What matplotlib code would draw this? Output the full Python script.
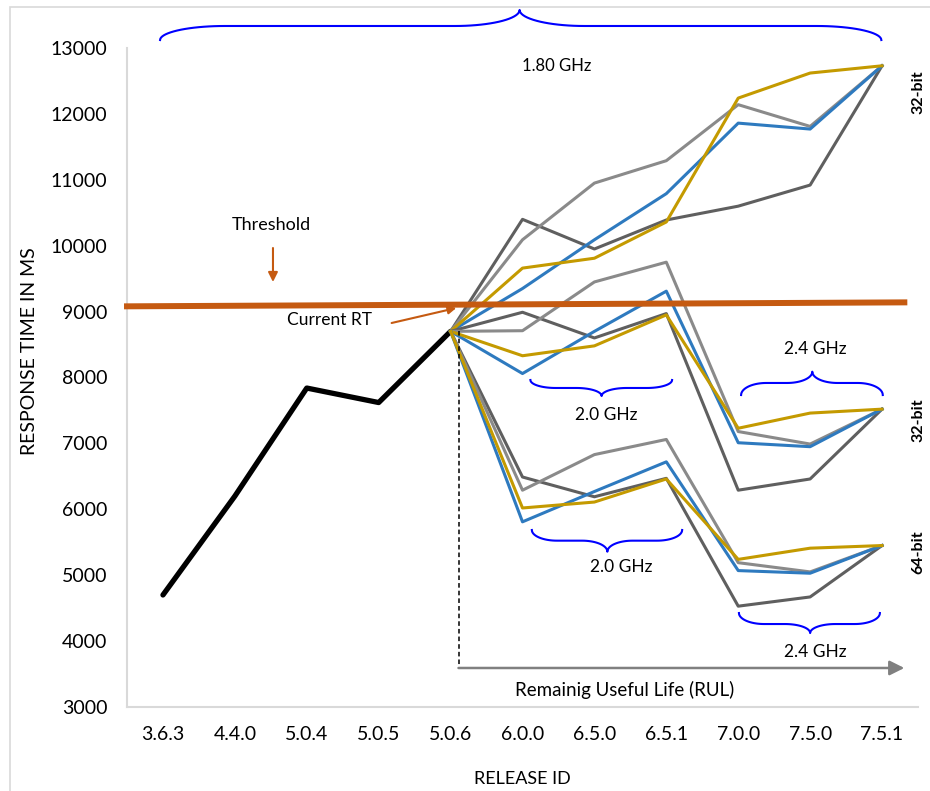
import numpy as np
import matplotlib
matplotlib.use("Agg")
import matplotlib.pyplot as plt
from matplotlib.patches import Rectangle

plt.rcParams['font.family'] = ['Lato', 'DejaVu Sans']

releases = ['3.6.3', '4.4.0', '5.0.4', '5.0.5', '5.0.6', '6.0.0',
            '6.5.0', '6.5.1', '7.0.0', '7.5.0', '7.5.1']
history_rt = [4700, 6200, 7840, 7620, 8700]
threshold_rt = [9080, 9140]

# predicted response times from release 5.0.6 onwards
b32_180_dark = [8700, 10400, 9950, 10390, 10600, 10920, 12730]
b32_180_light = [8700, 10090, 10950, 11290, 12140, 11810, 12730]
b32_180_blue = [8700, 9350, 10090, 10790, 11860, 11770, 12730]
b32_180_gold = [8700, 9660, 9810, 10360, 12240, 12620, 12730]

b32_fast_dark = [8700, 8990, 8600, 8970, 6290, 6460, 7520]
b32_fast_light = [8700, 8710, 9450, 9750, 7180, 6990, 7520]
b32_fast_blue = [8700, 8060, 8700, 9310, 7010, 6950, 7520]
b32_fast_gold = [8700, 8330, 8480, 8950, 7230, 7460, 7520]

b64_fast_dark = [8700, 6490, 6190, 6470, 4530, 4670, 5450]
b64_fast_light = [8700, 6290, 6830, 7060, 5190, 5050, 5450]
b64_fast_blue = [8700, 5810, 6270, 6720, 5070, 5030, 5450]
b64_fast_gold = [8700, 6020, 6110, 6460, 5240, 5410, 5450]

DARK = '#5f5f5f'
LIGHT = '#8a8a8a'
BLUE = '#2e7abf'
GOLD = '#c49a00'
ORANGE = '#c55a11'
BRACE = '#0000ff'


def brace(ax, x0, x1, xm, y_end, y_mid, y_tip, rx=0.3):
    pts_x, pts_y = [], []
    t = np.linspace(np.pi, np.pi / 2, 20)
    pts_x += list(x0 + rx + rx * np.cos(t)); pts_y += list(y_end + (y_mid - y_end) * np.sin(t))
    t = np.linspace(np.pi / 2, 0, 20)
    pts_x += list(xm - rx + rx * np.cos(t)); pts_y += list(y_tip + (y_mid - y_tip) * np.sin(t))
    t = np.linspace(np.pi, np.pi / 2, 20)
    pts_x += list(xm + rx + rx * np.cos(t)); pts_y += list(y_tip + (y_mid - y_tip) * np.sin(t))
    t = np.linspace(np.pi / 2, 0, 20)
    pts_x += list(x1 - rx + rx * np.cos(t)); pts_y += list(y_end + (y_mid - y_end) * np.sin(t))
    ax.plot(pts_x, pts_y, color=BRACE, lw=1.5, clip_on=False, zorder=6)


fig = plt.figure(figsize=(9.3, 7.91), dpi=100)
fig.patches.append(Rectangle((10 / 930, -0.1), 1.2, 0.991 + 0.1, transform=fig.transFigure,
                             fill=False, edgecolor='#d9d9d9', lw=1.2))
ax = fig.add_axes([127 / 930, 1 - 707 / 791, 791 / 930, 659 / 791])

x_all = np.arange(len(releases))
x_pred = x_all[4:]

ax.plot(x_all[:5], history_rt, color='black', lw=3.8, zorder=3, solid_capstyle='round')

bundles = [
    (b32_180_dark, b32_180_light, b32_180_blue, b32_180_gold),
    (b32_fast_dark, b32_fast_light, b32_fast_blue, b32_fast_gold),
    (b64_fast_dark, b64_fast_light, b64_fast_blue, b64_fast_gold),
]
for dark, light, blue, gold in bundles:
    ax.plot(x_pred, dark, color=DARK, lw=2.2, zorder=4)
    ax.plot(x_pred, light, color=LIGHT, lw=2.2, zorder=4)
    ax.plot(x_pred, blue, color=BLUE, lw=2.2, zorder=4)
    ax.plot(x_pred, gold, color=GOLD, lw=2.2, zorder=4)

# threshold line
ax.plot([-0.5, 10.31], threshold_rt, color=ORANGE, lw=4.3, zorder=5, clip_on=False)

ax.set_xlim(-0.5, 10.5)
ax.set_ylim(3000, 13000)
ax.set_yticks(range(3000, 13001, 1000))
ax.set_xticks(x_all)
ax.set_xticklabels(releases)
ax.tick_params(axis='both', length=0, labelsize=14, colors='black')
ax.tick_params(axis='x', pad=14)
ax.tick_params(axis='y', pad=14)
for s in ['top', 'right']:
    ax.spines[s].set_visible(False)
for s in ['left', 'bottom']:
    ax.spines[s].set_color('#d9d9d9')
    ax.spines[s].set_linewidth(1.5)

ax.set_ylabel('RESPONSE TIME IN MS', fontsize=14)
ax.yaxis.set_label_coords(-0.112, 0.54)
ax.set_xlabel('RELEASE ID', fontsize=13, labelpad=20)

# RUL marker
ax.plot([4.11, 4.11], [8700, 3592], color='black', lw=1.1, ls=(0, (3, 2)), zorder=6)
ax.annotate('', xy=(10.31, 3592), xytext=(4.11, 3592),
            arrowprops=dict(arrowstyle='-|>', color='#808080', lw=1.8, mutation_scale=22,
                            shrinkA=0, shrinkB=0),
            annotation_clip=False, zorder=6)
ax.text(6.42, 3258, 'Remainig Useful Life (RUL)', fontsize=13.5, ha='center', va='center')

# threshold / current RT labels
ax.text(1.51, 10314, 'Threshold', fontsize=13, ha='center', va='center')
ax.annotate('', xy=(1.53, 9449), xytext=(1.53, 9965),
            arrowprops=dict(arrowstyle='-|>', color=ORANGE, lw=1.5, mutation_scale=14,
                            shrinkA=0, shrinkB=0))
ax.text(2.32, 8873, 'Current RT', fontsize=12.5, ha='center', va='center')
ax.annotate('', xy=(4.08, 9055), xytext=(3.18, 8827),
            arrowprops=dict(arrowstyle='-|>', color=ORANGE, lw=1.5, mutation_scale=12,
                            shrinkA=0, shrinkB=0))

# frequency braces
brace(ax, -0.04, 9.99, 4.96, 13121, 13334, 13577, rx=0.9)
ax.text(5.47, 12727, '1.80 GHz', fontsize=12, ha='center', va='center')

brace(ax, 5.11, 7.08, 6.1, 7962, 7841, 7719, rx=0.35)
ax.text(6.17, 7431, '2.0 GHz', fontsize=12.5, ha='center', va='center')

brace(ax, 8.04, 10.01, 9.03, 7734, 7917, 8088, rx=0.35)
ax.text(9.07, 8432, '2.4 GHz', fontsize=12.5, ha='center', va='center')

brace(ax, 5.13, 7.22, 6.18, 5686, 5524, 5357, rx=0.35)
ax.text(6.37, 5129, '2.0 GHz', fontsize=12.5, ha='center', va='center')

brace(ax, 8.01, 9.97, 9.0, 4426, 4259, 4122, rx=0.35)
ax.text(9.07, 3835, '2.4 GHz', fontsize=12.5, ha='center', va='center')

# architecture labels
for y, lab in [(12332, '32-bit'), (7355, '32-bit'), (5352, '64-bit')]:
    ax.text(10.51, y, lab, fontsize=11.5, fontweight='bold', rotation=90,
            ha='center', va='center', clip_on=False)

fig.savefig('out.png', dpi=100)
